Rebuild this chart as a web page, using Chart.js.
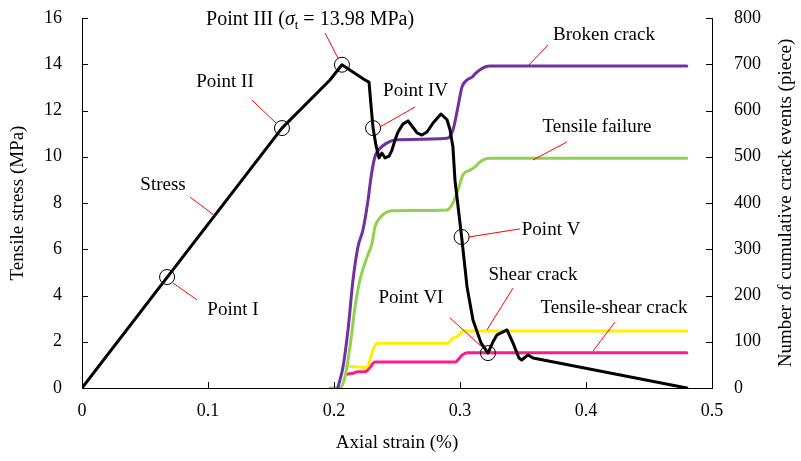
<!DOCTYPE html>
<html>
<head>
<meta charset="utf-8">
<script src="https://cdn.jsdelivr.net/npm/chart.js@4.4.1/dist/chart.umd.min.js"></script>
<style>
html, body { margin: 0; padding: 0; background: #fff; }
#wrap { width: 801px; height: 461px; }
</style>
</head>
<body>
<div id="wrap"><canvas id="myChart" width="801" height="461"></canvas></div>
<script>
// tensile stress (MPa) against axial strain (%)
const stress_x = [0, 0.1587, 0.1968, 0.2063, 0.2246, 0.2278, 0.2294, 0.231, 0.2333, 0.2357, 0.238, 0.2405, 0.2437, 0.246, 0.2484,
    0.2508, 0.2548, 0.2587, 0.2619, 0.2659, 0.2698, 0.2738, 0.2786, 0.2849, 0.2897, 0.2921, 0.2944, 0.296, 0.3013, 0.3056,
    0.3103, 0.3167, 0.3222, 0.3262, 0.3294, 0.3373, 0.342, 0.3468, 0.349, 0.354, 0.358, 0.48];
const stress_y = [0, 11.24, 13.32, 13.98, 13.32, 13.23, 12.2, 11.24, 10.5, 9.95, 10.16, 9.95, 10.03, 10.29, 10.72,
    11.07, 11.42, 11.55, 11.33, 11.03, 10.94, 11.07, 11.46, 11.85, 11.6, 11.16, 10.42, 8.99, 6.53, 4.37,
    2.94, 1.95, 1.51, 2.0, 2.3, 2.51, 1.95, 1.3, 1.21, 1.43, 1.3, 0];

// cumulative crack events (piece)
const broken_x = [0.2032, 0.2071, 0.2111, 0.2151, 0.219, 0.223, 0.227, 0.2286, 0.2302, 0.2325, 0.2341, 0.2421, 0.25, 0.2897,
    0.2944, 0.2984, 0.3016, 0.3056, 0.3095, 0.3119, 0.3159, 0.3198, 0.3238, 0.48];
const broken_y = [2, 45, 125, 234, 305, 342, 406, 440, 470, 500, 510, 530, 537, 540,
    558, 608, 651, 666, 672, 679, 688, 694, 696, 696];

const tensile_x = [0.1968, 0.2048, 0.2087, 0.2127, 0.2167, 0.2206, 0.2262, 0.2302, 0.2325, 0.2365, 0.246, 0.2897,
    0.2944, 0.2984, 0.3024, 0.3079, 0.3119, 0.3159, 0.3198, 0.3238, 0.48];
const tensile_y = [0, 0, 24, 89, 175, 234, 283, 313, 348, 368, 383, 385,
    400, 428, 461, 471, 478, 489, 495, 497, 497];

const shear_x = [0.2111, 0.2262, 0.2302, 0.2341, 0.2905, 0.2944, 0.2984, 0.3024, 0.48];
const shear_y = [47, 45, 76, 97, 97, 108, 112, 123, 123];

const tshear_x = [0.2111, 0.2151, 0.219, 0.2246, 0.2286, 0.2325, 0.296, 0.3016, 0.3056, 0.48];
const tshear_y = [30, 32, 35, 35, 45, 56, 56, 71, 76, 76];

// marked points I - VI on the stress curve
const key_x = [0.0675, 0.1587, 0.2063, 0.231, 0.3013, 0.3222];
const key_y = [4.8, 11.24, 13.98, 11.24, 6.53, 1.51];

const strain_ticks = [0, 0.1, 0.2, 0.3, 0.4, 0.5];
const stress_ticks = [0, 2, 4, 6, 8, 10, 12, 14, 16];
const count_ticks = [0, 100, 200, 300, 400, 500, 600, 700, 800];

const serif = '"Liberation Serif", "Times New Roman", serif';

function pts(xs, ys) {
    return xs.map((v, i) => ({ x: v, y: ys[i] }));
}

// labels with red leader lines, positions in strain / stress units
const notes = [
    { text: 'Point II', at: [0.1135, 13.23], from: [0.1349, 12.45], to: [0.154, 11.46] },
    { text: 'Stress', at: [0.0643, 8.78], from: [0.0857, 8.26], to: [0.1056, 7.44] },
    { text: 'Point I', at: [0.1198, 3.37], from: [0.0722, 4.54], to: [0.0913, 3.81] },
    { text: 'Point IV', at: [0.2647, 12.84], from: [0.2643, 12.15], to: [0.2365, 11.29] },
    { text: 'Broken crack', at: [0.4143, 15.26], from: [0.3698, 14.83], to: [0.3532, 13.88] },
    { text: 'Tensile failure', at: [0.4087, 11.29], from: [0.3849, 10.64], to: [0.3579, 9.86] },
    { text: 'Point V', at: [0.3723, 6.83], from: [0.3071, 6.53], to: [0.3476, 6.88] },
    { text: 'Shear crack', at: [0.3579, 4.89], from: [0.3421, 4.32], to: [0.3214, 2.51] },
    { text: 'Point VI', at: [0.2611, 3.89], from: [0.2921, 3.03], to: [0.3175, 1.77] },
    { text: 'Tensile-shear crack', at: [0.4222, 3.46], from: [0.423, 2.85], to: [0.4056, 1.6] },
    { text: null, at: [0.181, 15.91], from: [0.1929, 15.35], to: [0.2032, 14.26] }
];

function draw_parts(ctx, parts, cx, cy) {
    let w = 0;
    parts.forEach(p => { ctx.font = p.font; p.w = ctx.measureText(p.t).width; w += p.w; });
    let xx = cx - w / 2;
    parts.forEach(p => { ctx.font = p.font; ctx.fillText(p.t, xx, cy + (p.dy || 0)); xx += p.w; });
}

const decorations = {
    id: 'decorations',
    afterDraw(chart) {
        const ctx = chart.ctx;
        const area = chart.chartArea;
        const sx = chart.scales.x, sy = chart.scales.y, sy1 = chart.scales.y1;
        ctx.save();

        // tick marks pointing into the plot
        ctx.strokeStyle = '#000';
        ctx.lineWidth = 1;
        ctx.beginPath();
        sx.ticks.forEach(t => {
            const px = Math.round(sx.getPixelForValue(t.value)) + 0.5;
            ctx.moveTo(px, area.bottom); ctx.lineTo(px, area.bottom - 6);
        });
        sy.ticks.forEach(t => {
            const py = Math.round(sy.getPixelForValue(t.value)) + 0.5;
            ctx.moveTo(area.left, py); ctx.lineTo(area.left + 6, py);
        });
        sy1.ticks.forEach(t => {
            const py = Math.round(sy1.getPixelForValue(t.value)) + 0.5;
            ctx.moveTo(area.right, py); ctx.lineTo(area.right - 6, py);
        });
        ctx.stroke();

        // leader lines
        ctx.strokeStyle = '#ff0000';
        ctx.lineWidth = 1;
        ctx.beginPath();
        notes.forEach(n => {
            ctx.moveTo(sx.getPixelForValue(n.from[0]), sy.getPixelForValue(n.from[1]));
            ctx.lineTo(sx.getPixelForValue(n.to[0]), sy.getPixelForValue(n.to[1]));
        });
        ctx.stroke();

        // label text
        ctx.fillStyle = '#000';
        ctx.textBaseline = 'middle';
        ctx.textAlign = 'center';
        notes.forEach(n => {
            const cx = sx.getPixelForValue(n.at[0]), cy = sy.getPixelForValue(n.at[1]);
            if (n.text) {
                ctx.font = '19px ' + serif;
                ctx.fillText(n.text, cx, cy);
            } else {
                ctx.textAlign = 'left';
                draw_parts(ctx, [
                    { t: 'Point III (', font: '20px ' + serif },
                    { t: 'σ', font: 'italic 20px ' + serif },
                    { t: 't', font: '13px ' + serif, dy: 5 },
                    { t: ' = 13.98 MPa)', font: '20px ' + serif }
                ], cx, cy);
                ctx.textAlign = 'center';
            }
        });

        // axis titles
        ctx.font = '19px ' + serif;
        ctx.fillText('Axial strain (%)', (area.left + area.right) / 2, 443);
        ctx.save();
        ctx.translate(18, (area.top + area.bottom) / 2);
        ctx.rotate(-Math.PI / 2);
        ctx.fillText('Tensile stress (MPa)', 0, 0);
        ctx.restore();
        ctx.save();
        ctx.translate(786, (area.top + area.bottom) / 2);
        ctx.rotate(-Math.PI / 2);
        ctx.fillText('Number of cumulative crack events (piece)', 0, 0);
        ctx.restore();

        ctx.restore();
    }
};

const line_style = (color, width, smooth) => ({
    borderColor: color,
    borderWidth: width,
    pointRadius: 0,
    fill: false,
    tension: 0,
    cubicInterpolationMode: smooth ? 'monotone' : 'default',
    borderJoinStyle: 'round',
    borderCapStyle: 'round'
});

// fixed box sizes so the plot area sits at 82..712 x 18..388
function fit_vertical(width) {
    return (s) => { s.width = width; s.paddingTop = 0; s.paddingBottom = 0; };
}

const ctx = document.getElementById('myChart');

const data = {
    datasets: [
        {
            type: 'scatter',
            label: 'Points',
            data: pts(key_x, key_y),
            yAxisID: 'y',
            showLine: false,
            pointRadius: 7.5,
            pointBorderWidth: 1,
            pointBorderColor: '#000',
            pointBackgroundColor: 'rgba(0,0,0,0)'
        },
        Object.assign({ type: 'line', label: 'Stress', data: pts(stress_x, stress_y), yAxisID: 'y' }, line_style('#000000', 3, false)),
        Object.assign({ type: 'line', label: 'Broken crack', data: pts(broken_x, broken_y), yAxisID: 'y1' }, line_style('#7030a0', 3, true)),
        Object.assign({ type: 'line', label: 'Tensile failure', data: pts(tensile_x, tensile_y), yAxisID: 'y1' }, line_style('#92d050', 3, true)),
        Object.assign({ type: 'line', label: 'Shear crack', data: pts(shear_x, shear_y), yAxisID: 'y1' }, line_style('#fff000', 3, true)),
        Object.assign({ type: 'line', label: 'Tensile-shear crack', data: pts(tshear_x, tshear_y), yAxisID: 'y1' }, line_style('#ff1a8c', 3, true))
    ]
};

const tick_font = { family: serif, size: 18 };

const config = {
    type: 'line',
    data: data,
    options: {
        responsive: false,
        animation: false,
        layout: { padding: { top: 18, left: 0, right: 0, bottom: 0 } },
        scales: {
            x: {
                type: 'linear',
                min: 0,
                max: 0.5,
                afterBuildTicks: (s) => { s.ticks = strain_ticks.map(v => ({ value: v })); },
                afterFit: (s) => { s.height = 73; s.paddingLeft = 0; s.paddingRight = 0; },
                grid: { drawOnChartArea: false, drawTicks: false },
                border: { display: true, color: '#000', width: 1 },
                ticks: { font: tick_font, color: '#000', padding: 12, maxRotation: 0 }
            },
            y: {
                position: 'left',
                min: 0,
                max: 16,
                afterBuildTicks: (s) => { s.ticks = stress_ticks.map(v => ({ value: v })); },
                afterFit: fit_vertical(82),
                grid: { drawOnChartArea: false, drawTicks: false },
                border: { display: true, color: '#000', width: 1 },
                ticks: { font: tick_font, color: '#000', padding: 20 }
            },
            y1: {
                position: 'right',
                min: 0,
                max: 800,
                afterBuildTicks: (s) => { s.ticks = count_ticks.map(v => ({ value: v })); },
                afterFit: fit_vertical(89),
                grid: { drawOnChartArea: false, drawTicks: false },
                border: { display: true, color: '#000', width: 1 },
                ticks: { font: tick_font, color: '#000', padding: 22 }
            }
        },
        plugins: {
            legend: { display: false },
            tooltip: { enabled: false }
        }
    },
    plugins: [decorations]
};

chart = new Chart(ctx, config);
</script>
</body>
</html>
